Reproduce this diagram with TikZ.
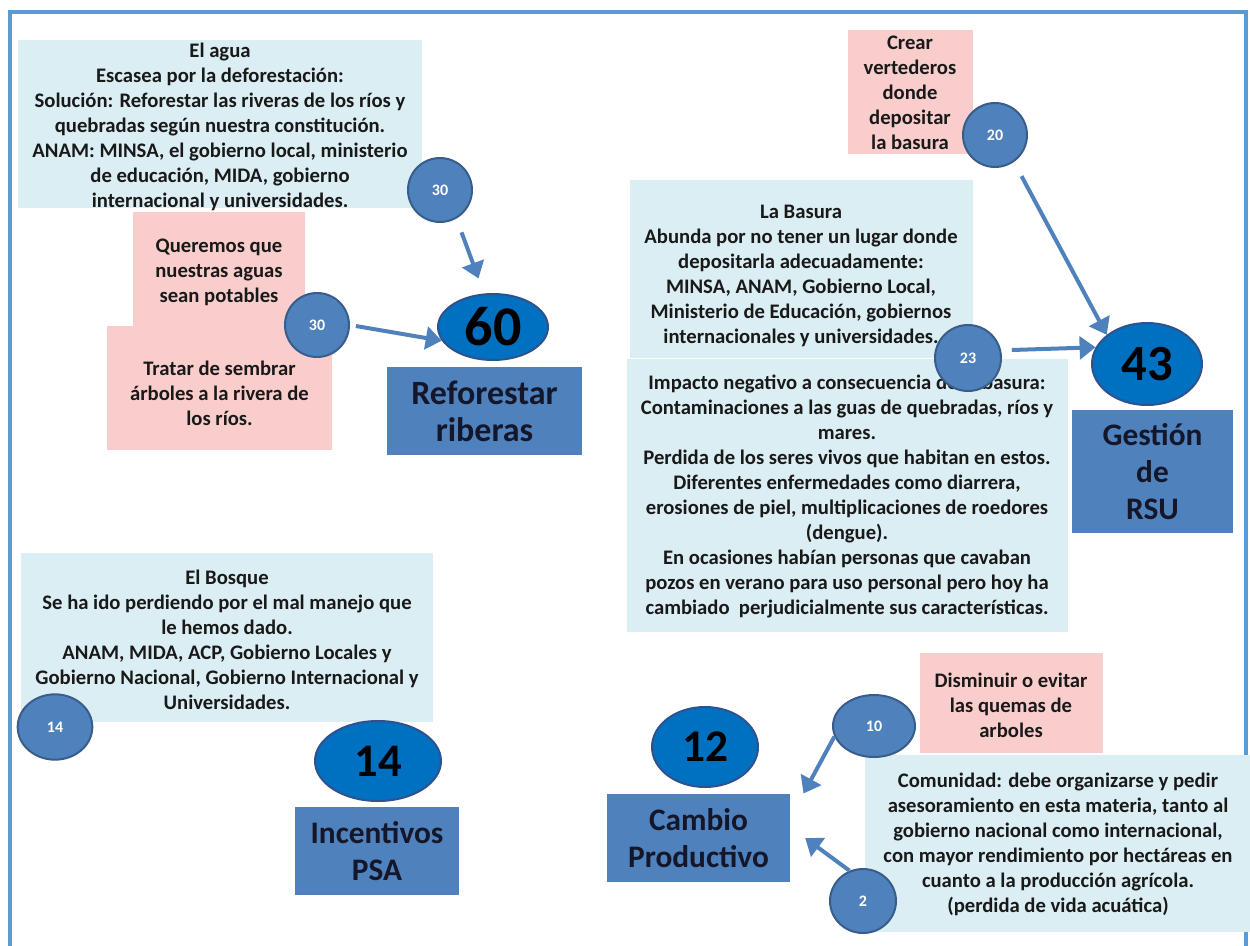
\documentclass[tikz,border=0pt]{standalone}
\usepackage{fontspec}
\setmainfont{Carlito}
\usetikzlibrary{arrows.meta,shapes.geometric}

\definecolor{marco}{RGB}{91,155,213}
\definecolor{celeste}{RGB}{219,238,243}
\definecolor{rosa}{RGB}{250,205,205}
\definecolor{azulc}{RGB}{79,129,189}
\definecolor{azulb}{RGB}{56,93,138}
\definecolor{azulf}{RGB}{0,112,192}
\definecolor{azulo}{RGB}{47,82,143}
\definecolor{tinta}{RGB}{20,22,42}

\tikzset{every picture/.style={line width=0.75pt}}
\tikzset{
  txt/.style={inner sep=0.75pt, align=center, text=black!90,
    font=\bfseries\fontsize{15.5}{18.75}\selectfont},
  bolita/.style={ellipse, draw=azulb, fill=azulc, line width=1.5pt, inner sep=0pt,
    text=white, font=\bfseries\fontsize{12}{14}\selectfont},
  globo/.style={ellipse, draw=azulo, fill=azulf, line width=1.5pt, inner sep=0pt, text=black},
  titulo/.style={rectangle, fill=azulc, inner sep=0pt, align=center, text=tinta,
    font=\bfseries\fontsize{23.5}{28}\selectfont},
  flecha/.style={draw=azulc, line width=3pt, -{Triangle[length=12pt,width=17pt]}},
}

\begin{document}
\begin{tikzpicture}[x=0.75pt,y=0.75pt,yscale=-1,xscale=1]
\useasboundingbox (0,0) rectangle (1250,946);

%Shape: Frame
\draw [marco, line width=3pt] (10,952) -- (10,12) -- (1246,12) -- (1246,952) ;

%Shape: Rectangle
\fill [celeste] (18,40) rectangle (422,208) ;
%Shape: Rectangle
\fill [rosa] (133,212) rectangle (305,327) ;
%Shape: Rectangle
\fill [rosa] (107,326) rectangle (332,450) ;
%Shape: Rectangle
\fill [rosa] (848,30) rectangle (973,154) ;
%Shape: Rectangle
\fill [celeste] (630,180) rectangle (973,358) ;
%Shape: Rectangle
\fill [celeste] (627,359) rectangle (1068,632) ;
%Shape: Rectangle
\fill [celeste] (21,553) rectangle (433,722) ;
%Shape: Rectangle
\fill [rosa] (920,653) rectangle (1103,753) ;
%Shape: Rectangle
\fill [celeste] (865,755) rectangle (1250,932) ;

% Text Node
\node [txt] (agua) at (220,127) {El agua\\Escasea por la deforestación:\\Solución: Reforestar las riveras de los ríos y\\quebradas según nuestra constitución.\\ANAM: MINSA, el gobierno local, ministerio\\de educación, MIDA, gobierno\\internacional y universidades.};
% Text Node
\node [txt] (queremos) at (219,272) {Queremos que\\nuestras aguas\\sean potables};
% Text Node
\node [txt] (tratar) at (219.5,393) {Tratar de sembrar\\árboles a la rivera de\\los ríos.};
% Text Node
\node [txt] (crear) at (910,93) {Crear\\vertederos\\donde\\depositar\\la basura};
% Text Node
\node [txt] (basura) at (801,275.5) {La Basura\\Abunda por no tener un lugar donde\\depositarla adecuadamente:\\MINSA, ANAM, Gobierno Local,\\Ministerio de Educación, gobiernos\\internacionales y universidades.};
% Text Node
\node [txt] (impacto) at (847,496.5) {Impacto negativo a consecuencia de la basura:\\Contaminaciones a las guas de quebradas, ríos y\\mares.\\Perdida de los seres vivos que habitan en estos.\\Diferentes enfermedades como diarrera,\\erosiones de piel, multiplicaciones de roedores\\(dengue).\\En ocasiones habían personas que cavaban\\pozos en verano para uso personal pero hoy ha\\cambiado\ \ perjudicialmente sus características.};
% Text Node
\node [txt] (bosque) at (227,639.5) {El Bosque\\Se ha ido perdiendo por el mal manejo que\\le hemos dado.\\ANAM, MIDA, ACP, Gobierno Locales y\\Gobierno Nacional, Gobierno Internacional y\\Universidades.};
% Text Node
\node [txt] (disminuir) at (1011,705) {Disminuir o evitar\\las quemas de\\arboles};
% Text Node
\node [txt] (comunidad) at (1058,844) {Comunidad: debe organizarse y pedir\\asesoramiento en esta materia, tanto al\\gobierno nacional como internacional,\\con mayor rendimiento por hectáreas en\\cuanto a la producción agrícola.\\(perdida de vida acuática)};

%Shape: Ellipse
\node [globo, minimum width=82.5pt, minimum height=49.5pt, font=\bfseries\fontsize{42}{42}\selectfont] (e60) at (493,327) {60};
%Shape: Ellipse
\node [globo, minimum width=82.5pt, minimum height=61.5pt, font=\bfseries\fontsize{38}{38}\selectfont] (e43) at (1147,364) {43};
%Shape: Ellipse
\node [globo, minimum width=94.5pt, minimum height=60pt, font=\bfseries\fontsize{35}{35}\selectfont] (e14) at (378,761) {14};
%Shape: Ellipse
\node [globo, minimum width=79.5pt, minimum height=60pt, font=\bfseries\fontsize{34}{34}\selectfont] (e12) at (705,747) {12};

%Shape: Rectangle
\node [titulo, minimum width=146.25pt, minimum height=66pt, font=\bfseries\fontsize{25.5}{28}\selectfont] (reforestar) at (484.5,411) {Reforestar\\riberas};
%Shape: Rectangle
\node [titulo, minimum width=120.75pt, minimum height=92.25pt] (gestion) at (1152.5,471.5) {Gestión\\de\\RSU};
%Shape: Rectangle
\node [titulo, minimum width=123pt, minimum height=66pt] (incentivos) at (377,851) {Incentivos\\PSA};
%Shape: Rectangle
\node [titulo, minimum width=137.25pt, minimum height=66pt] (cambio) at (698.5,838) {Cambio\\Productivo};

%Shape: Circle
\node [bolita, minimum width=48pt, minimum height=48pt] (c30a) at (440,190) {30};
%Shape: Circle
\node [bolita, minimum width=48pt, minimum height=48pt] (c30b) at (317,325) {30};
%Shape: Circle
\node [bolita, minimum width=48pt, minimum height=48pt] (c20) at (995,135) {20};
%Shape: Circle
\node [bolita, minimum width=49.5pt, minimum height=49.5pt] (c23) at (968,358) {23};
%Shape: Circle
\node [bolita, minimum width=56pt, minimum height=49pt] (c14) at (55,727) {14};
%Shape: Circle
\node [bolita, minimum width=61.5pt, minimum height=46.5pt] (c10) at (874,726) {10};
%Shape: Circle
\node [bolita, minimum width=49.5pt, minimum height=48pt] (c2) at (863,901) {2};

%Straight Lines
\draw [flecha, shorten <=11pt, shorten >=12pt] (c30a.-60) -- (e60.105) ;
%Straight Lines
\draw [flecha, shorten <=4.5pt] (c30b.east) -- (e60.195) ;
%Straight Lines
\draw [flecha, shorten <=12pt] (c20.-55) -- (e43.144) ;
%Straight Lines
\draw [flecha, shorten <=8pt] (c23.13) -- (e43.162) ;
%Straight Lines
\draw [flecha] (c10.195) -- ([xshift=9.75pt]cambio.north east) ;
%Straight Lines
\draw [flecha] (c2.114) -- ([xshift=11pt]cambio.east) ;

\end{tikzpicture}
\end{document}
